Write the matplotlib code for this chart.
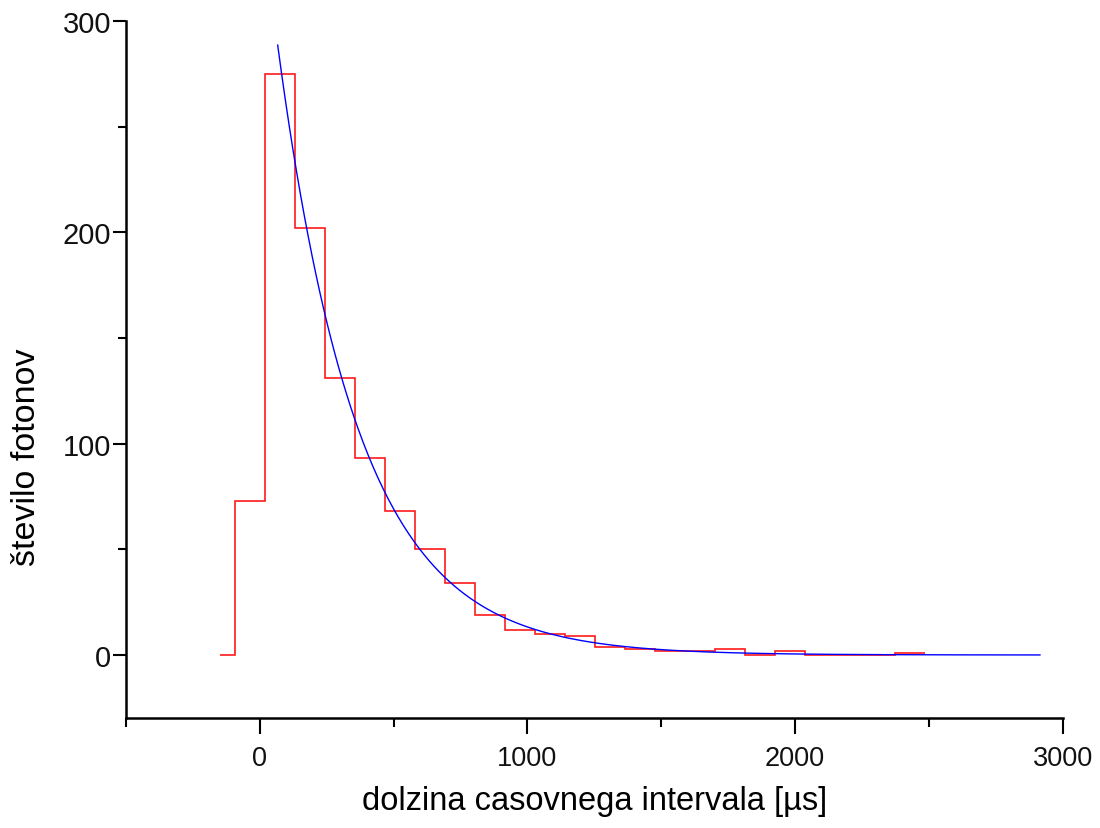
import numpy as np
import matplotlib
matplotlib.use("Agg")
import matplotlib.pyplot as plt
from matplotlib.ticker import MultipleLocator

# Histogram bin edges (µs) and counts
bin_edges = [-148, -92, 20, 132, 244, 356, 468, 580, 692, 804, 916, 1028, 1140,
             1252, 1364, 1476, 1588, 1700, 1812, 1924, 2036, 2148, 2260, 2372, 2484]
counts = [0, 73, 275, 202, 131, 93, 68, 50, 34, 19, 12, 10, 9,
          4, 3, 2, 2, 3, 0, 2, 0, 0, 0, 1]

# Exponential fit parameters
fit_amplitude = 360.0
fit_tau = 303.0
fit_x_start = 67.0
fit_x_end = 2915.0

x_ticks_major = [0, 1000, 2000, 3000]
y_ticks_major = [0, 100, 200, 300]

plt.rcParams['font.family'] = ['Liberation Sans', 'DejaVu Sans']

fig = plt.figure(figsize=(11, 8.29), dpi=100)
ax = fig.add_axes([0.1145, 1 - 719.4 / 829, 0.9661 - 0.1145, (719.4 - 22) / 829])

ax.stairs(counts, bin_edges, baseline=None, color='#ff1a1a', linewidth=1.2)

xf = np.linspace(fit_x_start, fit_x_end, 600)
yf = fit_amplitude * np.exp(-xf / fit_tau)
ax.plot(xf, yf, color='#0000ff', linewidth=1.0)

ax.set_xlim(-500, 3000)
ax.set_ylim(-30, 300)
ax.set_xticks(x_ticks_major)
ax.set_yticks(y_ticks_major)
ax.xaxis.set_minor_locator(MultipleLocator(500))
ax.yaxis.set_minor_locator(MultipleLocator(50))

for s in ['top', 'right']:
    ax.spines[s].set_visible(False)
for s in ['left', 'bottom']:
    ax.spines[s].set_linewidth(1.8)

ax.tick_params(axis='x', which='major', length=11.5, width=1.5, pad=8, labelsize=19.5)
ax.tick_params(axis='x', which='minor', length=6.5, width=1.5)
ax.tick_params(axis='y', which='major', length=9.5, width=1.5, pad=1, labelsize=21)
ax.tick_params(axis='y', which='minor', length=6, width=1.5)

for lab in ax.get_xticklabels() + ax.get_yticklabels():
    lab.set_color('#111111')

ax.set_xlabel('dolzina casovnega intervala [µs]', fontsize=23.5, labelpad=10)
ax.set_ylabel('število fotonov', fontsize=24.5)
ax.yaxis.set_label_coords(-0.0897, 0.376)

fig.savefig('out.png', dpi=100)
